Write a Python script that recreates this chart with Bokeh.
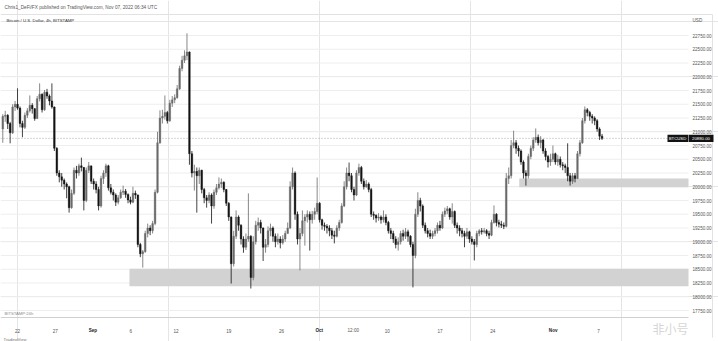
import numpy as np
from bokeh.plotting import figure
from bokeh.models import Range1d, Label, ColumnDataSource
from bokeh.core.properties import value
from bokeh.embed import file_html
from bokeh.resources import INLINE

# ---- data (8h-ish bars, BTC/USD) ----
first_open = 21050
closes = [
    21280, 21300, 21150, 20980, 21450, 21500, 21430, 21150, 21080, 21300,
    21380, 21480, 21420, 21240, 21600, 21680, 21400, 21720, 21650, 21560,
    21450, 20700, 20250, 20180, 20120, 20050, 20000, 19620, 19880, 20300,
    20250, 20380, 20350, 19750, 20300, 20380, 20100, 20050, 19950, 19650,
    20150, 20250, 20380, 19980, 19900, 19850, 19720, 19800, 19900, 19920,
    19860, 19760, 19720, 19880, 19850, 18950, 18780, 18820, 19150, 19250,
    19200, 19330, 19900, 20800, 21250, 21280, 21350, 21200, 21520, 21580,
    21620, 21780, 22150, 22300, 22380, 22450, 20600, 20250, 20280, 20200,
    20300, 19950, 19800, 19750, 19850, 19650, 19900, 19980, 20050, 20080,
    19950, 19700, 19450, 18600, 19100, 19450, 19300, 19050, 18900, 19050,
    19100, 18350, 19000, 19300, 19350, 19250, 18900, 18950, 19200, 19250,
    19100, 19000, 19050, 18980, 19050, 19150, 19250, 20000, 20250, 19500,
    19050, 19150, 19380, 19450, 19500, 19400, 19500, 19550, 19700, 19400,
    19300, 19280, 19250, 19200, 19120, 19100, 19250, 19350, 19650, 20000,
    20250, 20200, 19950, 19850, 20250, 20350, 20100, 20000, 20050, 19950,
    19500, 19480, 19430, 19450, 19400, 19450, 19350, 19200, 19150, 19050,
    18950, 19000, 19150, 19100, 19180, 19100, 18950, 18750, 19500, 19750,
    19650, 19300, 19200, 19150, 19100, 19150, 19200, 19300, 19250, 19500,
    19560, 19600, 19450, 19550, 19300, 19250, 19200, 19150, 19100, 19180,
    19050, 19000, 18950, 19150, 19200, 19180, 19200, 19150, 19120, 19350,
    19500, 19350, 19320, 19300, 19280, 20150, 20200, 20750, 20800, 20700,
    20650, 20450, 20250, 20200, 20550, 20700, 20850, 20900, 20800, 20850,
    20650, 20550, 20450, 20500, 20600, 20450, 20500, 20400, 20380, 20350,
    20200, 20100, 20200, 20150, 20600, 20800, 21200, 21400, 21350, 21280,
    21250, 21200, 21050, 20920, 20880,
]
highs = [
    21320, 21380, 21320, 21180, 21500, 21560, 21790, 21460, 21200, 21350,
    21430, 21660, 21520, 21430, 21650, 21880, 21700, 21760, 21780, 21680,
    21880, 21460, 20720, 20300, 20250, 20150, 20080, 20020, 19950, 20350,
    20380, 20420, 20530, 20360, 20350, 20450, 20380, 20150, 20100, 20000,
    20200, 20300, 20420, 20400, 20050, 19950, 19880, 19850, 19950, 20020,
    19960, 19880, 19820, 20000, 19930, 19860, 18980, 18850, 19200, 19330,
    19300, 19380, 19950, 21000, 21390, 21400, 21660, 21380, 21580, 21650,
    21680, 21850, 22200, 22380, 22480, 22790, 22460, 20650, 20400, 20350,
    20350, 20310, 19980, 19850, 19900, 19880, 19950, 20050, 20170, 20150,
    20100, 19960, 19720, 19460, 19200, 19570, 19480, 19320, 19100, 19150,
    19880, 19120, 19100, 19380, 19440, 19400, 19260, 19050, 19280, 19330,
    19280, 19150, 19150, 19100, 19120, 19200, 19350, 20100, 20350, 20280,
    19550, 19250, 19570, 19500, 19570, 19550, 19560, 19620, 20170, 19720,
    19420, 19350, 19320, 19300, 19250, 19200, 19300, 19400, 19700, 20100,
    20350, 20440, 20250, 20000, 20300, 20420, 20380, 20150, 20120, 20080,
    19980, 19550, 19500, 19520, 19480, 19570, 19500, 19380, 19250, 19200,
    19100, 19080, 19200, 19220, 19250, 19220, 19120, 19000, 19600, 19900,
    19800, 19680, 19350, 19250, 19220, 19200, 19250, 19350, 19380, 19550,
    19620, 19650, 19620, 19700, 19570, 19350, 19300, 19250, 19200, 19250,
    19200, 19100, 19050, 19200, 19230, 19250, 19250, 19230, 19200, 19400,
    19660, 19520, 19400, 19380, 19350, 20250, 20350, 20850, 21020, 20850,
    20750, 20680, 20480, 20300, 20600, 20750, 20900, 21060, 20950, 20920,
    20870, 20700, 20580, 20600, 20750, 20620, 20580, 20550, 20450, 20420,
    20790, 20250, 20250, 20250, 20650, 20850, 21250, 21460, 21430, 21380,
    21320, 21280, 21230, 21080, 20960,
]
lows = [
    20800, 21180, 21050, 20790, 20960, 21380, 21400, 21080, 20900, 21050,
    21250, 21350, 21330, 21200, 21230, 21550, 21350, 21380, 21600, 21480,
    21420, 20650, 20200, 20080, 20000, 19950, 19790, 19530, 19600, 19850,
    20150, 20200, 20280, 19570, 19720, 20250, 20050, 19950, 19880, 19570,
    19620, 20050, 20180, 19930, 19860, 19750, 19650, 19680, 19780, 19850,
    19800, 19700, 19680, 19700, 19780, 18900, 18720, 18530, 18800, 19080,
    19120, 19150, 19300, 19880, 20780, 21150, 21220, 21150, 21180, 21450,
    21520, 21600, 21760, 22100, 22250, 22300, 20400, 20170, 19930, 19530,
    20050, 19880, 19700, 19620, 19700, 19330, 19600, 19850, 19950, 19980,
    19900, 19650, 19380, 18240, 18550, 19050, 19200, 18950, 18800, 18850,
    19000, 18150, 18300, 18950, 19200, 19150, 18650, 18800, 18900, 19100,
    19000, 18900, 18950, 18880, 18950, 19000, 19150, 19230, 19950, 19400,
    18950, 18480, 19100, 18930, 19350, 18840, 19330, 19400, 19500, 19350,
    19220, 19200, 19150, 19100, 19050, 18970, 19080, 19200, 19330, 19630,
    19950, 20100, 19900, 19750, 19830, 20200, 20050, 19950, 19980, 19900,
    19450, 19400, 19350, 19380, 19330, 19350, 19300, 19150, 19050, 18980,
    18880, 18840, 18950, 19020, 19050, 19000, 18900, 18170, 18700, 19450,
    19550, 19250, 19150, 19080, 19050, 19050, 19100, 19150, 19200, 19230,
    19450, 19500, 19400, 19330, 19250, 19150, 19100, 19080, 18900, 19050,
    18980, 18950, 18660, 18900, 19100, 19130, 19150, 19100, 19050, 19100,
    19330, 19280, 19260, 19250, 19230, 19260, 20050, 20150, 20700, 20600,
    20550, 20400, 20150, 20020, 20150, 20500, 20650, 20800, 20750, 20700,
    20600, 20480, 20350, 20380, 20450, 20400, 20380, 20350, 20300, 20250,
    20100, 20020, 20050, 20080, 20140, 20550, 20780, 21150, 21280, 21200,
    21150, 21120, 21000, 20850, 20850,
]

# time axis: days since Aug 22, 2022
bar_first_day = -1.95
bar_last_day = 77.47
date_ticks = [0, 5, 10, 15, 21, 28, 35, 40, 44.5, 49, 56, 63, 71, 77]
date_labels = ["22", "27", "Sep", "6", "12", "19", "26", "Oct", "12:00",
               "10", "17", "24", "Nov", "7"]
month_labels = ["Sep", "Oct", "Nov"]
price_ticks = list(range(17750, 22751, 250))

# support zones (grey rectangles)
zone_start_day = [14.84, 66.5]
zone_bottom = [18190, 19990]
zone_top = [18510, 20150]
last_price = 20880

# ---- geometry: the pane spans pixels x 0..688, y 14..317 ----
W, H = 718, 341
PANE_L, PANE_R, PANE_T, PANE_B = 0, 688, 14, 317
PANE_X0, PANE_X1 = -2.253, 88.93        # days at pane edges
PANE_Y0, PANE_Y1 = 17623, 23132         # prices at pane bottom / top
XPP = (PANE_X1 - PANE_X0) / (PANE_R - PANE_L)
YPP = (PANE_Y1 - PANE_Y0) / (PANE_B - PANE_T)


def px(x):
    return PANE_X0 + (x - PANE_L) * XPP


def py(y):
    return PANE_Y1 - (y - PANE_T) * YPP


N = len(closes)
t = np.linspace(bar_first_day, bar_last_day, N)
c = np.array(closes, dtype=float)
o = np.array([first_open] + closes[:-1], dtype=float)
h = np.maximum(np.array(highs, dtype=float), np.maximum(o, c))
l = np.minimum(np.array(lows, dtype=float), np.minimum(o, c))
up = c >= o
UPC, DNC = "#6a6a6a", "#141414"
colors = np.where(up, UPC, DNC)

p = figure(width=W, height=H, x_range=Range1d(px(0), px(W)),
           y_range=Range1d(py(H), py(0)),
           output_backend="svg", toolbar_location=None,
           x_axis_location=None, y_axis_location=None,
           min_border=0)
p.outline_line_color = None
p.background_fill_color = "white"
p.border_fill_color = "white"
FONT = "Liberation Sans"
GREY = "#555555"

# horizontal grid lines in the pane
p.segment(x0=[PANE_X0] * len(price_ticks), x1=[PANE_X1] * len(price_ticks),
          y0=price_ticks, y1=price_ticks, line_color="#eeeeee", line_width=1)

# outer frame (top + right) and time-axis separator
p.line(x=[px(0), px(712), px(712)], y=[py(14), py(14), py(337)],
       line_color="#e2e2e2", line_width=1)
p.line(x=[PANE_X0, PANE_X1], y=[py(317), py(317)], line_color="#d0d0d0",
       line_width=1)

# price axis labels
p.text(x=[px(692)] * len(price_ticks), y=price_ticks,
       text=[f"{v:.2f}" for v in price_ticks], text_font=value(FONT),
       text_font_size="4.6px", text_color=GREY, text_baseline="middle")

# time axis labels
norm = [(d, s) for d, s in zip(date_ticks, date_labels) if s not in month_labels]
bold = [(d, s) for d, s in zip(date_ticks, date_labels) if s in month_labels]
p.text(x=[d for d, _ in norm], y=[py(330)] * len(norm), text=[s for _, s in norm],
       text_font=value(FONT), text_font_size="4.6px", text_color=GREY,
       text_align="center", text_baseline="middle")
p.text(x=[d for d, _ in bold], y=[py(330)] * len(bold), text=[s for _, s in bold],
       text_font=value(FONT), text_font_size="4.6px", text_color="#222222",
       text_font_style="bold", text_align="center", text_baseline="middle")

# zones
p.quad(left=zone_start_day, right=[PANE_X1] * len(zone_start_day),
       bottom=zone_bottom, top=zone_top, fill_color="#d2d2d2", line_color=None)

# last price line
p.line(x=[PANE_X0, PANE_X1], y=[last_price, last_price], line_color="#9a9a9a",
       line_dash="1 2", line_width=0.8)

# candles
p.segment(x0=t, x1=t, y0=l, y1=h, line_color=colors, line_width=0.8)
p.vbar(x=t, width=0.22, top=np.maximum(o, c), bottom=np.minimum(o, c),
       fill_color=colors, line_color=colors, line_width=0.4)

# price tags
p.quad(left=[px(667), px(688)], right=[px(687.5), px(713)],
       bottom=[last_price - 3.6 * YPP] * 2, top=[last_price + 3.6 * YPP] * 2,
       fill_color="#131313", line_color=None)
p.text(x=[px(677), px(700.5)], y=[last_price] * 2,
       text=["BTCUSD", f"{last_price:.2f}"], text_font=value(FONT),
       text_font_size="4.3px", text_color="white", text_align="center",
       text_baseline="middle")


def lab(x, y, text, size="4.6px", color=GREY, font=FONT, **kw):
    p.add_layout(Label(x=px(x), y=py(y), text=text, text_font_size=size,
                       text_color=color, text_font=font, text_baseline="middle",
                       **kw))


lab(4, 7, "Chris1_DeFi/FX published on TradingView.com, Nov 07, 2022 06:34 UTC",
    size="4.7px")
lab(6, 20, "Bitcoin / U.S. Dollar, 4h, BITSTAMP", color="#333333", size="4.3px")
lab(692, 20, "USD")
lab(4, 313, "BITSTAMP:24h", size="4.2px", color="#8a8a8a")
lab(3, 339, "TradingView", size="4.2px", color="#777777")
lab(652, 328, "非小号", size="12px", color="#d6d6d6", font="Noto Sans CJK SC")

open("out.html", "w").write(file_html(p, INLINE))
